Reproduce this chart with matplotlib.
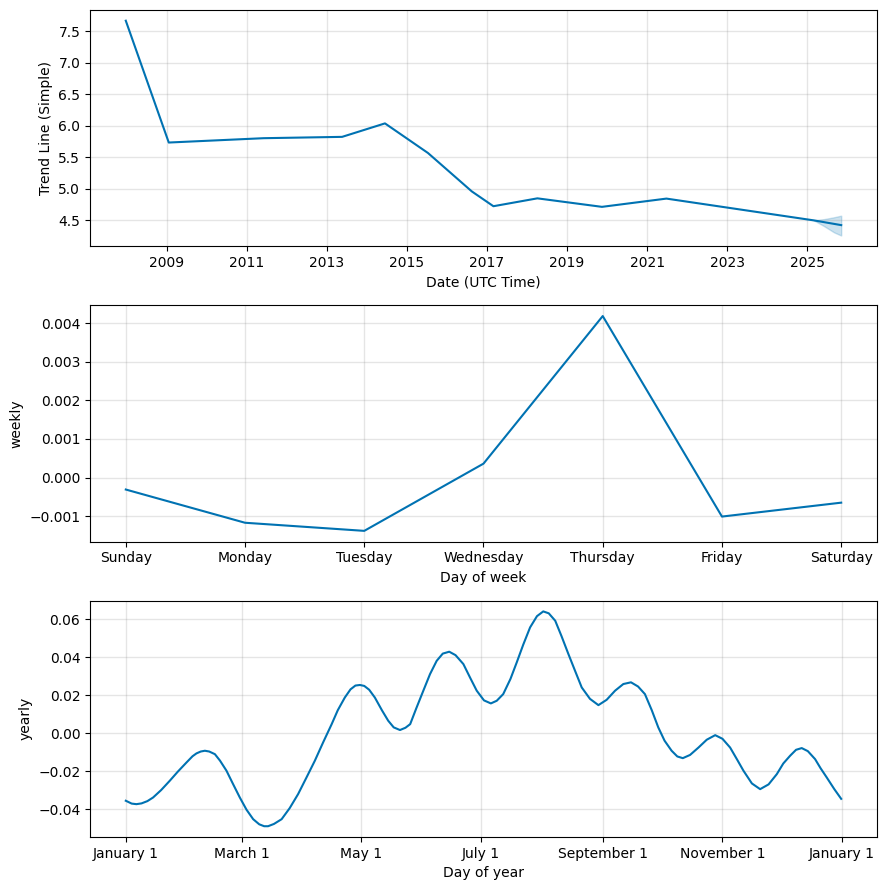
import numpy as np
import pandas as pd
import matplotlib
matplotlib.use("Agg")
import matplotlib.pyplot as plt
import matplotlib.dates as mdates
from matplotlib.ticker import FuncFormatter

# Trend (piecewise linear)
trend_dates = ['2007-12-25', '2009-01-20', '2011-06-05', '2013-05-20', '2014-06-15',
               '2015-07-12', '2016-08-15', '2017-02-28', '2018-04-05', '2019-11-15',
               '2021-06-25', '2025-03-01', '2025-11-05']
trend_values = [7.67, 5.736, 5.805, 5.826, 6.04, 5.57, 4.96, 4.725, 4.85, 4.715,
                4.846, 4.50, 4.425]

# forecast uncertainty band
band_dates = ['2025-03-01', '2025-06-01', '2025-09-01', '2025-11-05']
band_upper = [4.50, 4.52, 4.55, 4.575]
band_lower = [4.50, 4.41, 4.31, 4.26]

trend_tick_years = [2009, 2011, 2013, 2015, 2017, 2019, 2021, 2023, 2025]

# Weekly component
days = ['Sunday', 'Monday', 'Tuesday', 'Wednesday', 'Thursday', 'Friday', 'Saturday']
weekly = [-0.00031, -0.00117, -0.00138, 0.00036, 0.00418, -0.00101, -0.00065]

# Yearly component (day of year offset, value)
yearly_day = [0, 3, 5.4, 8, 11, 13.9, 18, 22.4, 26.5, 30.9, 34, 36, 38.2, 40.3, 42.5, 45.4,
              48, 51.3, 54.5, 58.1, 61.5, 64.9, 68, 70.5, 72.5, 75.5, 79.4, 83.5, 87.8, 92,
              96.3, 100.5, 104.9, 108, 111.6, 114.5, 117, 119.3, 121.5, 124, 126.9, 130.5,
              133.7, 136.5, 139.7, 142.5, 144.9, 148, 151.6, 155, 158.4, 161.5, 164.8, 168,
              172, 175.5, 178.8, 182.5, 186, 189, 192.3, 196, 199.2, 202.5, 206, 209.5,
              212.7, 215.5, 218.8, 222, 225.5, 229, 232.3, 236.5, 240.8, 245, 249.3, 253.5,
              257.4, 261, 264.5, 268, 271.3, 274.5, 278.1, 281, 283.8, 287.5, 291.8, 296,
              300.3, 304, 307.9, 311.5, 314.7, 319, 323.2, 327.5, 331.7, 335, 338.5, 341.5,
              344.4, 347.5, 351.2, 354, 357.1, 361, 364.5]
yearly_val = [-0.0356, -0.0371, -0.0374, -0.0370, -0.0358, -0.0339, -0.0300, -0.0251, -0.0203,
              -0.0155, -0.0122, -0.0107, -0.0097, -0.0093, -0.0097, -0.0111, -0.0145, -0.0198,
              -0.0265, -0.0339, -0.0403, -0.0453, -0.0480, -0.0490, -0.0490, -0.0478, -0.0453,
              -0.0395, -0.0321, -0.0235, -0.0146, -0.0050, 0.0047, 0.0120, 0.0187, 0.0230,
              0.0250, 0.0253, 0.0248, 0.0228, 0.0187, 0.0120, 0.0065, 0.0030, 0.0016, 0.0028,
              0.0047, 0.0130, 0.0223, 0.0310, 0.0380, 0.0418, 0.0428, 0.0410, 0.0363, 0.0290,
              0.0223, 0.0172, 0.0156, 0.0170, 0.0205, 0.0285, 0.0372, 0.0465, 0.0556, 0.0615,
              0.0640, 0.0630, 0.0591, 0.0510, 0.0416, 0.0325, 0.0240, 0.0180, 0.0147, 0.0175,
              0.0223, 0.0258, 0.0267, 0.0245, 0.0205, 0.0120, 0.0030, -0.0040, -0.0093,
              -0.0123, -0.0132, -0.0115, -0.0076, -0.0035, -0.0011, -0.0030, -0.0076, -0.0140,
              -0.0198, -0.0265, -0.0295, -0.0270, -0.0216, -0.0160, -0.0119, -0.0088, -0.0079,
              -0.0095, -0.0137, -0.0185, -0.0233, -0.0295, -0.0346]

color = '#0072B2'

fig, axes = plt.subplots(3, 1, figsize=(8.86, 8.9), dpi=100)
fig.subplots_adjust(left=0.1016, right=0.9898, top=0.9888, bottom=0.0596, hspace=0.25)

# Trend
ax = axes[0]
ax.plot(pd.to_datetime(trend_dates), trend_values, ls='-', c=color)
ax.fill_between(pd.to_datetime(band_dates), band_lower, band_upper, color=color, alpha=0.2)
ax.set_xticks(pd.to_datetime([f'{y}-01-01' for y in trend_tick_years]))
ax.xaxis.set_major_formatter(mdates.DateFormatter('%Y'))
ax.grid(True, which='major', c='gray', ls='-', lw=1, alpha=0.2)
ax.set_xlabel('Date (UTC Time)')
ax.set_ylabel('Trend Line (Simple)')

# Weekly
ax = axes[1]
ax.plot(range(len(days)), weekly, ls='-', c=color)
ax.set_xticks(range(len(days)))
ax.set_xticklabels(days)
ax.grid(True, which='major', c='gray', ls='-', lw=1, alpha=0.2)
ax.set_xlabel('Day of week')
ax.set_ylabel('weekly')

# Yearly
ax = axes[2]
yearly_dates = pd.Timestamp('2017-01-01') + pd.to_timedelta(yearly_day, unit='D')
ax.plot(yearly_dates, yearly_val, ls='-', c=color)
ax.xaxis.set_major_locator(mdates.MonthLocator(bymonth=range(1, 13), bymonthday=1, interval=2))
ax.xaxis.set_major_formatter(FuncFormatter(
    lambda x, pos=None: '{dt:%B} {dt.day}'.format(dt=mdates.num2date(x))))
ax.grid(True, which='major', c='gray', ls='-', lw=1, alpha=0.2)
ax.set_xlabel('Day of year')
ax.set_ylabel('yearly')

fig.savefig('out.png', dpi=100)
